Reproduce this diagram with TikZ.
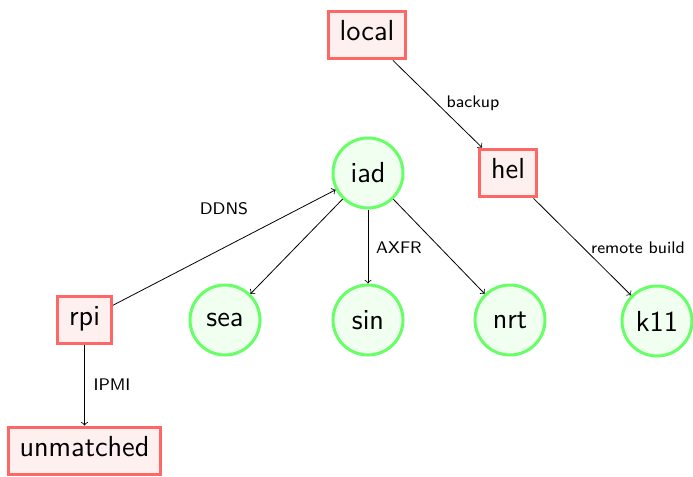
\documentclass[tikz,border=0pt]{standalone}
\usetikzlibrary{arrows}
\definecolor{redline}{RGB}{255,102,102}
\definecolor{redfill}{RGB}{255,240,240}
\definecolor{greenline}{RGB}{102,255,102}
\definecolor{greenfill}{RGB}{240,255,240}
\begin{document}
\begin{tikzpicture}[x=0.5pt,y=-0.5pt,
  every node/.style={font=\sffamily},
  hostbox/.style={draw=redline,fill=redfill,line width=1.5pt,rectangle,
    font=\sffamily\fontsize{14.5}{17}\selectfont,text height=0.72em,text depth=0.22em,
    inner xsep=5.75pt,inner ysep=7.25pt},
  hostcirc/.style={draw=greenline,fill=greenfill,line width=1.5pt,circle,
    font=\sffamily\fontsize{14.5}{17}\selectfont,minimum size=35pt,inner sep=0pt},
  lbl/.style={font=\sffamily\fontsize{8.4}{10}\selectfont,inner sep=1pt},
  conn/.style={->,line width=0.4pt}]
\useasboundingbox (0,0) rectangle (693,477);
\node[hostbox] (local) at (367,35) {local};
\node[hostbox] (hel) at (508,173) {hel};
\node[hostcirc] (iad) at (368,173) {iad};
\node[hostbox] (rpi) at (84.5,320) {rpi};
\node[hostcirc] (sea) at (225,320) {sea};
\node[hostcirc] (sin) at (368,320) {sin};
\node[hostcirc] (nrt) at (510,320) {nrt};
\node[hostcirc] (k11) at (657,321) {k11};
\node[hostbox] (unmatched) at (84.5,451) {unmatched};
\draw[conn] (local) -- (hel);
\draw[conn] (hel) -- (k11);
\draw[conn] (iad) -- (sea);
\draw[conn] (iad) -- (sin);
\draw[conn] (iad) -- (nrt);
\draw[conn] (rpi) -- (iad);
\draw[conn] (rpi) -- (unmatched);
\node[lbl] (lbackup) at (473,103) {backup};
\node[lbl] (lremote) at (638,248) {remote build};
\node[lbl] (laxfr) at (399,248) {AXFR};
\node[lbl] (lddns) at (224,209) {DDNS};
\node[lbl] (lipmi) at (112,385) {IPMI};
\end{tikzpicture}
\end{document}
